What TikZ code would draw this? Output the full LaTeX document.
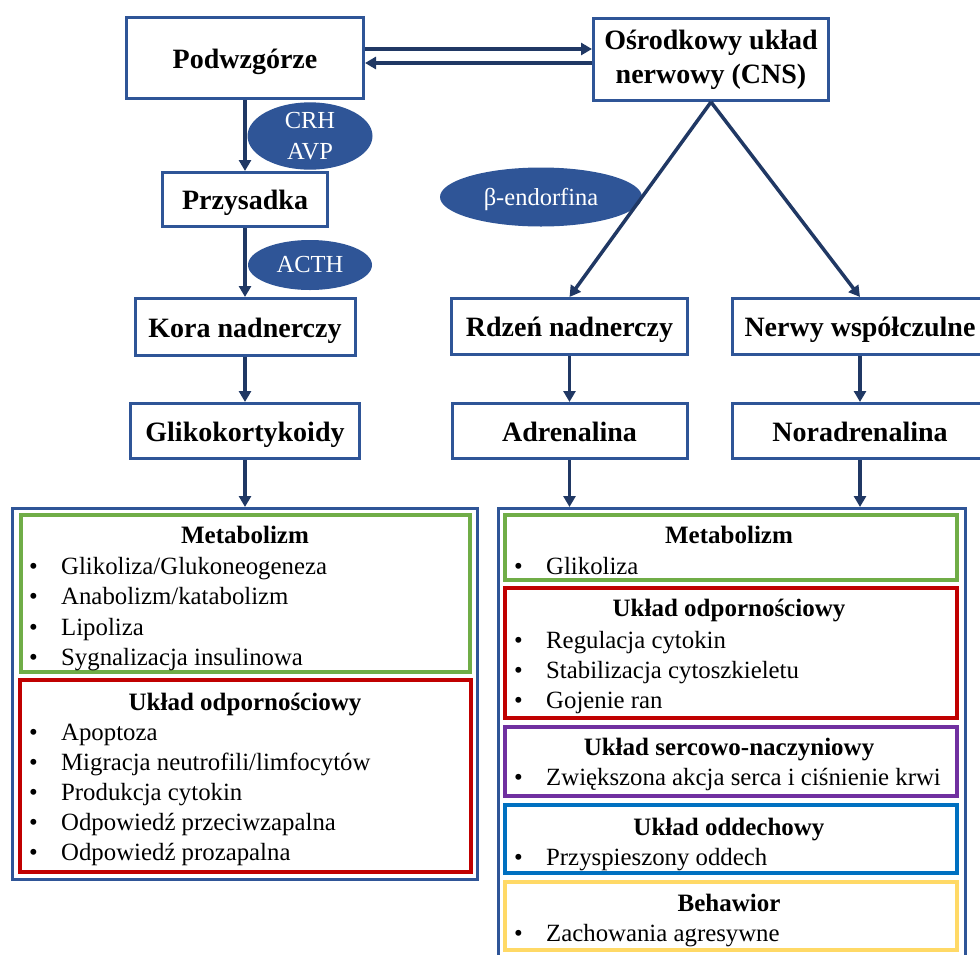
\documentclass[tikz,border=0pt]{standalone}
\usepackage{fontspec}
\setmainfont{Liberation Serif}
\usepackage{xcolor}
\usetikzlibrary{shapes.geometric, arrows.meta}
\definecolor{boxblue}{HTML}{2F5597}
\definecolor{navy}{HTML}{203864}
\definecolor{secgreen}{HTML}{70AD47}
\definecolor{secred}{HTML}{C00000}
\definecolor{secpurple}{HTML}{7030A0}
\definecolor{secblue}{HTML}{0070C0}
\definecolor{secyellow}{HTML}{FFD966}
\newcommand{\itbul}{\makebox[32pt][l]{\textbullet}}

\begin{document}
\begin{tikzpicture}[x=1pt, y=-1pt,
	organ/.style={draw=boxblue, line width=3pt, fill=white, inner sep=0pt, font=\bfseries\fontsize{28}{34}\selectfont},
	flat/.style={text height=20pt, text depth=0pt},
	hormone/.style={ellipse, fill=boxblue, text=white, inner sep=0pt, font=\fontsize{24.5}{31}\selectfont},
	panel/.style={draw=boxblue, line width=3pt, fill=white, inner sep=0pt},
	section/.style={draw=#1, line width=3.5pt, fill=white, inner sep=0pt},
	head/.style={inner sep=0pt, font=\bfseries\fontsize{25}{30}\selectfont, text height=17pt, text depth=0pt},
	item/.style={anchor=west, inner sep=0pt, font=\fontsize{24.8}{30}\selectfont, text height=17pt, text depth=0pt},
	link/.style={draw=navy, line width=3.5pt, -{Triangle[length=11pt, width=12pt]}}
	]
	\useasboundingbox (0,0) rectangle (980,954);
	\clip (0,0) rectangle (980,954);
	% axis HPA
	\node[organ, flat, minimum width=237pt, minimum height=81pt] (pod) at (245,58) {Podwzgórze};
	\node[organ, flat, minimum width=165pt, minimum height=54pt] (prz) at (245,199.5) {Przysadka};
	\node[organ, flat, minimum width=220pt, minimum height=57pt] (kora) at (245,327) {Kora nadnerczy};
	\node[organ, flat, minimum width=229pt, minimum height=55pt] (glik) at (245,431) {Glikokortykoidy};
	% CNS branch
	\node[organ, align=center, minimum width=235pt, minimum height=82pt] (cns) at (711,59.5) {Ośrodkowy układ\\nerwowy (CNS)};
	\node[organ, flat, minimum width=236pt, minimum height=56pt] (rdz) at (569.5,326.5) {Rdzeń nadnerczy};
	\node[organ, flat, minimum width=255pt, minimum height=56pt] (nerw) at (860,326.5) {Nerwy współczulne};
	\node[organ, flat, minimum width=235pt, minimum height=55pt] (adr) at (569.5,431) {Adrenalina};
	\node[organ, flat, minimum width=255pt, minimum height=55pt] (nor) at (860,431) {Noradrenalina};
	% hormones
	\node[hormone, align=center, minimum width=125pt, minimum height=58pt] (crh) at (310,136) {CRH\\AVP};
	\node[hormone, minimum width=124pt, minimum height=50pt] (acth) at (310,265) {ACTH};
	\node[hormone, text depth=0pt, minimum width=202pt, minimum height=59pt] (beta) at (541,197) {β-endorfina};
	% left panel
	\node[panel, minimum width=465pt, minimum height=371pt] (lpan) at (245,694) {};
	\node[section=secgreen, minimum width=449pt, minimum height=157pt] (lmet) at (245.5,593.5) {};
	\node[section=secred, minimum width=451pt, minimum height=192pt] (limm) at (245.5,776) {};
	\node[head] (lmeth) at (245,535) {Metabolizm};
	\node[item] (lm1) at (29,566) {\itbul Glikoliza/Glukoneogeneza};
	\node[item] (lm2) at (29,596) {\itbul Anabolizm/katabolizm};
	\node[item] (lm3) at (29,627) {\itbul Lipoliza};
	\node[item] (lm4) at (29,657) {\itbul Sygnalizacja insulinowa};
	\node[head] (limmh) at (245,702) {Układ odpornościowy};
	\node[item] (li1) at (29,732) {\itbul Apoptoza};
	\node[item] (li2) at (29,762) {\itbul Migracja neutrofili/limfocytów};
	\node[item] (li3) at (29,792) {\itbul Produkcja cytokin};
	\node[item] (li4) at (29,822) {\itbul Odpowiedź przeciwzapalna};
	\node[item] (li5) at (29,852) {\itbul Odpowiedź prozapalna};
	% right panel
	\node[panel, minimum width=467pt, minimum height=457pt] (rpan) at (732,737) {};
	\node[section=secgreen, minimum width=452pt, minimum height=65pt] (rmet) at (731,547.5) {};
	\node[section=secred, minimum width=452pt, minimum height=130pt] (rimm) at (731,653) {};
	\node[section=secpurple, minimum width=452pt, minimum height=69pt] (rcar) at (731,761.5) {};
	\node[section=secblue, minimum width=452pt, minimum height=68pt] (rres) at (731,839) {};
	\node[section=secyellow, minimum width=452pt, minimum height=68pt] (rbeh) at (731,916) {};
	\node[head] (rmeth) at (729,535) {Metabolizm};
	\node[item] (rm1) at (514,566) {\itbul Glikoliza};
	\node[head] (rimmh) at (729,608) {Układ odpornościowy};
	\node[item] (ri1) at (514,640) {\itbul Regulacja cytokin};
	\node[item] (ri2) at (514,670) {\itbul Stabilizacja cytoszkieletu};
	\node[item] (ri3) at (514,700) {\itbul Gojenie ran};
	\node[head] (rcarh) at (729,747) {Układ sercowo-naczyniowy};
	\node[item] (rc1) at (514,777) {\itbul Zwiększona akcja serca i ciśnienie krwi};
	\node[head] (rresh) at (729,827) {Układ oddechowy};
	\node[item] (rr1) at (514,857) {\itbul Przyspieszony oddech};
	\node[head] (rbehh) at (729,903) {Behawior};
	\node[item] (rb1) at (514,933) {\itbul Zachowania agresywne};
	% connectors
	\draw[link] ([yshift=9pt]pod.east) -- ([yshift=10.5pt]cns.west);
	\draw[link] ([yshift=-3.5pt]cns.west) -- ([yshift=-5pt]pod.east);
	\draw[link] (pod) -- (prz);
	\draw[link] (prz) -- (kora);
	\draw[link] (kora) -- (glik);
	\draw[link] (glik) -- (lpan);
	\draw[link] (cns.south) -- (rdz.north);
	\draw[link] (cns.south) -- (nerw.north);
	\draw[link] (rdz) -- (adr);
	\draw[link] (nerw) -- (nor);
	\draw[link] (adr.south) -- (adr.south |- rpan.north);
	\draw[link] (nor.south) -- (nor.south |- rpan.north);
\end{tikzpicture}
\end{document}
